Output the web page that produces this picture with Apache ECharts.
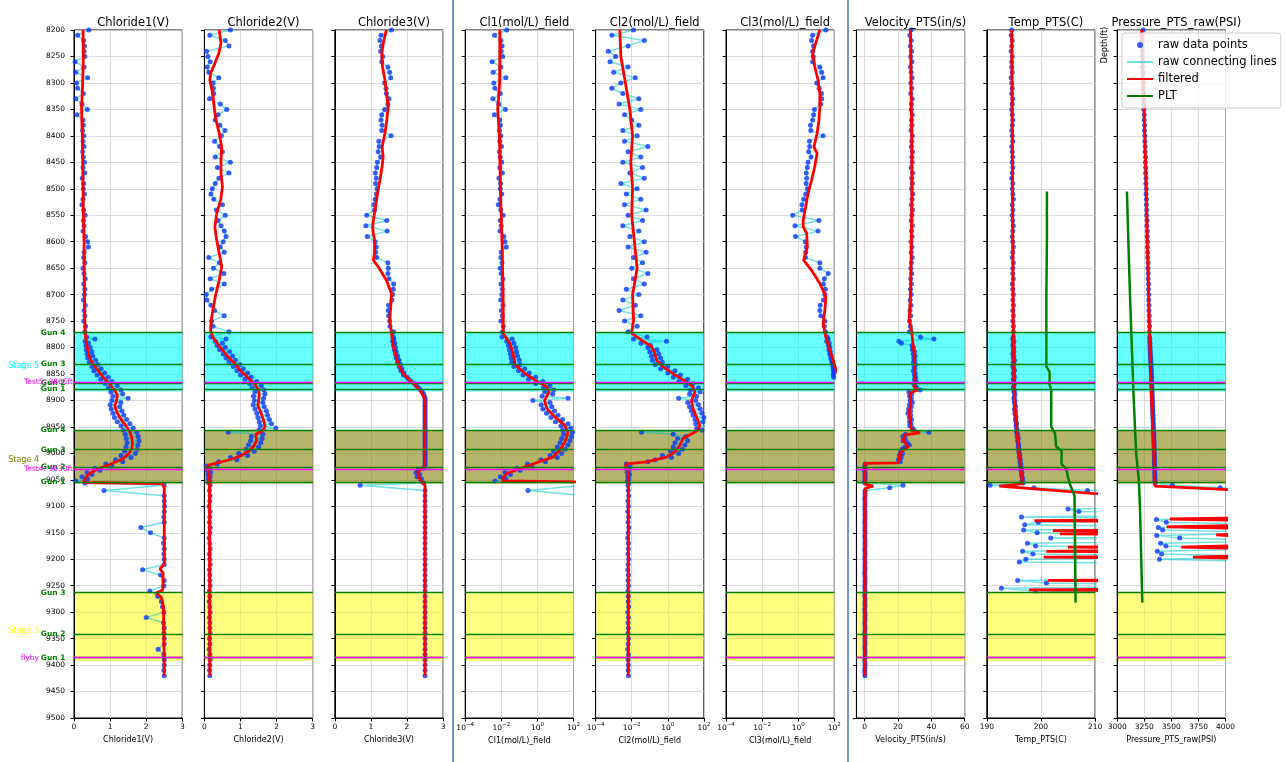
<!DOCTYPE html>
<html>
<head>
<meta charset="utf-8">
<script src="https://cdn.jsdelivr.net/npm/echarts@6/dist/echarts.min.js"></script>
<style>
  html, body { margin: 0; padding: 0; background: #fff; }
  #chart { width: 1285px; height: 762px; }
</style>
</head>
<body>
<div id="chart"></div>
<script>
// ---------------- depth grids (ft) ----------------
const upperDepth = [
  8200,8210,8220,8230,8240,8250,8260,8270,8280,8290,
  8300,8310,8320,8330,8340,8350,8360,8370,8380,8390,
  8400,8410,8420,8430,8440,8450,8460,8470,8480,8490,
  8500,8510,8520,8530,8540,8550,8560,8570,8580,8590,
  8600,8610,8620,8630,8640,8650,8660,8670,8680,8690,
  8700,8710,8720,8730,8740,8750,8760,8770,
  8780,8784,8788,8792,8796,8800,8804,8808,8812,8816,
  8820,8824,8828,8832,8836,8840,8844,8848,8852,8856,
  8860,8864,8868,8872,8876,8880,8884,8888,8892,8896,
  8900,8904,8908,8912,8916,8920,8924,8928,8932,8936,
  8940,8944,8948,8952,8956,8960,8964,8968,8972,8976,
  8980,8984,8988,8992,8996,9000,9004,9008,9012,9016,
  9020,9024,9028,9032,9036,9040,9044,9048,9052,9056,9060
];
const chlLowerDepth = [
  9070,9080,9090,9100,9110,9120,9130,9140,9150,9160,
  9170,9180,9190,9200,9210,9220,9230,9240,9250,9260,
  9270,9280,9290,9300,9310,9320,9330,9340,9350,9360,
  9370,9380,9390,9400,9410,9420
];
const ptsLowerDepth = [
  9065,9070,9075,9080,9085,9090,9095,9100,9105,9110,
  9115,9120,9125,9130,9135,9140,9145,9150,9155,9160,
  9165,9170,9175,9180,9185,9190,9195,9200,9205,9210,
  9215,9220,9225,9230,9235,9240,9245,9250,9255,9260,
  9265,9270,9275,9280,9285,9290,9295,9300,9305,9310,
  9315,9320,9325,9330,9335,9340,9345,9350,9355,9360,
  9365,9370,9375,9380,9385,9390,9395,9400,9405,9410,
  9415,9420
];
const chlDepth = upperDepth.concat(chlLowerDepth);
const ptsDepth = upperDepth.concat(ptsLowerDepth);

// ---------------- raw readings ----------------
const chloride1Raw = [
  0.41,0.10,0.27,0.29,0.28,0.30,0.03,0.28,0.05,0.38,
  0.07,0.10,0.26,0.05,0.22,0.37,0.08,0.25,0.26,0.24,
  0.27,0.25,0.28,0.24,0.26,0.29,0.25,0.30,0.23,0.27,
  0.26,0.29,0.25,0.22,0.27,0.31,0.26,0.28,0.25,0.32,
  0.38,0.40,0.28,0.27,0.30,0.25,0.28,0.31,0.27,0.30,
  0.29,0.26,0.31,0.28,0.30,0.27,0.32,0.30,
  0.35,0.58,0.31,0.40,0.33,0.45,0.34,0.50,0.36,0.52,
  0.38,0.60,0.42,0.66,0.50,0.75,0.55,0.85,0.64,0.95,
  0.74,1.05,0.86,1.20,0.95,1.30,1.02,1.35,1.08,1.50,
  1.05,1.30,1.00,1.27,1.03,1.33,1.08,1.38,1.12,1.46,
  1.20,1.55,1.30,1.64,1.36,1.74,1.42,1.78,1.45,1.80,
  1.47,1.77,1.44,1.75,1.40,1.70,1.30,1.58,1.15,1.35,
  0.88,1.05,0.58,0.72,0.36,0.50,0.22,0.38,0.05,0.30,2.50,
  0.83,2.50,2.50,2.51,2.50,2.49,2.50,1.85,2.12,2.50,
  2.48,2.50,2.49,2.50,2.50,1.90,2.40,2.50,2.49,2.10,
  2.32,2.42,2.45,2.49,2.00,2.48,2.50,2.49,2.50,2.50,
  2.33,2.49,2.50,2.50,2.49,2.50
];
const chloride2Raw = [
  0.72,0.15,0.58,0.68,0.06,0.10,0.16,0.08,0.12,0.40,
  0.24,0.25,0.26,0.14,0.44,0.62,0.38,0.30,0.43,0.57,
  0.47,0.28,0.42,0.50,0.30,0.72,0.36,0.68,0.40,0.30,
  0.22,0.18,0.26,0.50,0.33,0.58,0.38,0.46,0.55,0.60,
  0.52,0.44,0.55,0.12,0.42,0.25,0.54,0.16,0.55,0.20,
  0.05,0.07,0.18,0.28,0.55,0.20,0.24,0.68,
  0.18,0.60,0.30,0.50,0.35,0.58,0.42,0.70,0.52,0.78,
  0.60,0.86,0.68,0.98,0.80,1.08,0.90,1.20,1.00,1.30,
  1.12,1.45,1.25,1.58,1.32,1.65,1.40,1.68,1.36,1.64,
  1.38,1.62,1.35,1.66,1.40,1.72,1.45,1.75,1.48,1.80,
  1.52,1.86,1.55,1.98,1.52,0.66,1.62,1.30,1.60,1.28,
  1.56,1.22,1.50,1.15,1.38,0.95,1.20,0.72,0.90,0.40,
  0.35,0.05,0.14,0.08,0.17,0.10,0.16,0.11,0.15,0.12,0.16,
  0.14,0.16,0.15,0.13,0.16,0.15,0.14,0.16,0.15,0.13,
  0.15,0.16,0.14,0.15,0.16,0.14,0.15,0.15,0.16,0.14,
  0.15,0.13,0.15,0.16,0.14,0.15,0.15,0.16,0.14,0.15,
  0.13,0.15,0.16,0.15,0.14,0.15
];
const chloride3Raw = [
  1.57,1.28,1.25,1.29,1.27,1.33,1.30,1.47,1.52,1.55,
  1.38,1.42,1.43,1.50,1.47,1.38,1.30,1.28,1.31,1.30,
  1.56,1.22,1.23,1.20,1.27,1.18,1.16,1.12,1.15,1.13,
  1.17,1.15,1.12,1.08,1.10,0.88,1.44,0.86,1.45,0.90,
  1.12,1.15,1.13,1.16,1.47,1.48,1.47,1.50,1.63,1.62,
  1.60,1.58,1.49,1.48,1.49,1.52,1.53,1.63,
  1.62,1.64,1.60,1.66,1.63,1.68,1.65,1.70,1.68,1.74,
  1.70,1.78,1.74,1.82,1.78,1.86,1.83,1.92,1.90,2.00,
  2.05,2.12,2.20,2.26,2.32,2.38,2.42,2.46,2.48,2.50,
  2.50,2.50,2.50,2.50,2.50,2.50,2.50,2.50,2.50,2.50,
  2.50,2.50,2.50,2.50,2.50,2.50,2.50,2.50,2.50,2.50,
  2.50,2.50,2.50,2.50,2.50,2.50,2.50,2.50,2.50,2.50,
  2.50,2.50,2.45,2.30,2.25,2.35,2.28,2.40,2.38,2.46,0.70,
  2.50,2.50,2.50,2.50,2.50,2.50,2.50,2.50,2.50,2.50,
  2.50,2.50,2.50,2.50,2.50,2.50,2.50,2.50,2.50,2.50,
  2.50,2.50,2.50,2.50,2.50,2.50,2.50,2.50,2.50,2.50,
  2.50,2.50,2.50,2.50,2.50,2.50
];
const cl1Raw = [
  0.020,0.0042,0.0095,0.011,0.0098,0.012,0.0031,0.0095,0.0035,0.018,
  0.0038,0.0044,0.0088,0.0034,0.0072,0.017,0.0041,0.0082,0.0089,0.0079,
  0.0094,0.0083,0.0102,0.0078,0.0088,0.0105,0.0083,0.0115,0.0074,0.0092,
  0.0088,0.0106,0.0084,0.0068,0.0094,0.0125,0.0088,0.0098,0.0085,0.014,
  0.016,0.019,0.0099,0.0095,0.011,0.0087,0.0099,0.0122,0.0096,0.0112,
  0.0107,0.0092,0.0123,0.0101,0.0114,0.0096,0.0128,0.0116,
  0.011,0.040,0.020,0.050,0.025,0.063,0.028,0.071,0.032,0.079,
  0.035,0.10,0.038,0.11,0.050,0.20,0.089,0.35,0.16,0.80,
  0.32,2.0,0.80,5.0,2.2,7.9,2.5,7.1,1.8,50,
  0.56,5.0,1.6,6.3,2.0,8.9,3.2,14,5.6,25,
  10,50,20,71,25,89,28,79,22,63,
  18,50,12.6,35,7.9,22,5.0,12.6,1.6,2.8,
  0.28,0.50,0.071,0.11,0.016,0.032,0.0089,0.018,0.0045,400,400,
  0.30,400
];
const cl2Raw = [
  0.0126,0.0008,0.050,0.0063,0.0005,0.0013,0.00063,0.0063,0.001,0.016,
  0.0025,0.0008,0.0032,0.025,0.002,0.032,0.004,0.010,0.025,0.0032,
  0.020,0.004,0.079,0.0063,0.032,0.0032,0.040,0.0079,0.050,0.0025,
  0.020,0.005,0.032,0.004,0.063,0.0063,0.040,0.0032,0.025,0.0079,
  0.050,0.0063,0.063,0.0126,0.040,0.010,0.079,0.0126,0.050,0.005,
  0.025,0.0032,0.016,0.002,0.032,0.004,0.020,0.0063,
  0.071,0.0126,0.85,0.032,0.11,0.079,0.25,0.10,0.32,0.126,
  0.40,0.14,0.50,0.20,1.0,0.40,2.5,1.0,5.0,2.0,
  12.6,4.0,25,10,50,18,63,16,40,4.0,
  35,12.6,50,16,63,20,79,25,100,32,
  89,35,126,40,79,0.035,2.0,10,3.5,12.6,
  2.5,8.9,2.0,6.3,1.4,4.0,0.50,1.6,0.20,0.079,
  0.005,0.0079,0.005,0.0071,0.0056,0.0076,0.006,0.0069,0.0058,0.0068,0.0062,
  0.0064,0.0068,0.0062,0.0066,0.0061,0.0067,0.0063,0.0069,0.0064,0.006,
  0.0066,0.0065,0.0062,0.0068,0.0064,0.0061,0.0066,0.0063,0.0067,0.0062,
  0.0065,0.0064,0.0068,0.0061,0.0066,0.0063,0.0065,0.0062,0.0067,0.0064,
  0.006,0.0066,0.0063,0.0065,0.0064,0.0066
];
const cl3Raw = [
  34,6.3,5.5,7.1,6.3,6.8,6.3,15.8,20,24,
  10.5,14.5,19.5,20,17.8,7.9,7.1,6.3,4.8,5.0,
  24,4.2,4.3,3.8,5.2,3.5,3.2,2.8,2.95,2.75,
  3.2,2.6,2.0,1.6,1.66,0.49,14.1,0.66,12.6,0.71,
  2.5,2.8,2.6,2.5,15.8,15.8,46,28,25,32,
  30,25,16.6,15.8,17.8,30,28,32,
  40,46,38,52,48,56,50,60,56,66,
  63,72,76,79,89,85,91,95,87,93,
  160,1000
];
const velocityRaw = [
  27.8,27.1,27.9,27.4,28.1,27.6,28.3,27.5,27.9,28.4,
  27.7,28.2,27.6,28.5,28.0,27.9,28.6,28.1,28.3,27.8,
  28.6,28.2,28.0,28.7,28.3,28.5,27.9,28.8,28.2,28.6,
  28.1,28.9,28.4,28.0,28.7,28.3,27.9,28.6,28.1,28.4,
  27.8,28.3,27.9,28.5,28.0,27.7,28.2,27.6,28.0,27.5,
  27.9,27.3,27.8,27.2,27.6,26.9,27.4,26.8,
  33.5,41.5,20.5,22.0,28.4,29.2,28.6,29.9,29.1,30.2,
  29.4,30.0,29.3,30.4,29.6,30.1,29.2,30.3,29.8,30.6,
  29.9,30.8,29.4,30.2,31.0,33.3,26.5,28.2,26.9,28.0,
  27.2,28.6,26.8,27.9,26.3,27.5,25.9,27.6,26.8,28.1,
  26.9,27.8,27.0,28.6,29.5,38.5,24.5,22.8,24.2,23.0,
  25.5,26.8,24.0,22.3,21.5,22.6,20.8,21.9,20.2,21.4,
  0.3,0.1,0.2,0.0,0.1,0.3,0.1,0.2,0.0,0.1,23.0,
  15.0,0.2,0.1,0.2,0.0,0.1,0.2,0.1,0.0,0.2,
  0.1,0.2,0.1,0.0,0.2,0.1,0.1,0.2,0.0,0.1,
  0.2,0.1,0.2,0.0,0.1,0.2,0.1,0.0,0.2,0.1,
  0.1,0.2,0.0,0.1,0.2,0.1,0.2,0.0,0.1,0.2,
  0.1,0.0,0.2,0.1,0.1,0.2,0.0,0.1,0.2,0.1,
  0.2,0.0,0.1,0.2,0.1,0.0,0.2,0.1,0.1,0.2,
  0.0,0.1,0.2,0.1,0.2,0.0,0.1,0.2,0.1,0.0,
  0.1,0.1
];
const tempRaw = [
  194.6,194.5,194.7,194.6,194.5,194.7,194.6,194.6,194.7,194.5,
  194.6,194.7,194.6,194.8,194.7,194.6,194.7,194.8,194.7,194.6,
  194.7,194.8,194.6,194.7,194.8,194.7,194.8,194.7,194.6,194.8,
  194.7,194.8,194.9,194.7,194.8,194.7,194.8,194.9,194.8,194.7,
  194.8,194.9,194.8,194.7,194.9,194.8,194.8,194.9,194.7,194.8,
  194.9,194.8,194.9,194.8,194.9,194.8,194.9,194.9,
  194.9,194.8,195.0,194.9,194.8,195.0,194.9,195.0,194.8,195.0,
  194.9,195.1,194.9,195.0,194.8,195.0,195.1,194.9,195.0,195.1,
  194.9,195.0,195.1,195.0,194.9,195.1,195.0,195.2,195.1,195.0,
  195.2,195.1,195.2,195.3,195.1,195.3,195.2,195.3,195.4,195.3,
  195.4,195.5,195.4,195.5,195.6,195.5,195.7,195.6,195.8,195.7,
  195.8,195.9,195.8,196.0,195.9,196.0,196.1,196.0,196.2,196.1,
  196.3,196.2,196.4,196.3,196.5,196.4,196.5,196.6,196.5,196.7,190.6,
  198.7,208.6,240,240,240,240,240,240,205.0,207.0,
  240,196.4,240,199.5,197.0,240,196.8,199.3,240,201.8,
  240,197.5,199.0,240,196.6,198.5,240,197.2,196.0,240,
  240,240,240,240,240,195.7,201.0,240,192.7,199.0,
  240
];
const pressureRaw = [
  3240,3226,3230,3228,3232,3231,3235,3233,3238,3236,
  3241,3240,3244,3243,3247,3246,3250,3249,3253,3252,
  3256,3255,3258,3257,3261,3260,3263,3262,3266,3265,
  3269,3267,3271,3270,3273,3272,3276,3274,3278,3277,
  3280,3279,3282,3281,3285,3284,3287,3286,3290,3289,
  3292,3291,3294,3293,3296,3295,3298,3297,
  3299,3301,3300,3303,3302,3304,3303,3306,3305,3308,
  3307,3310,3309,3312,3311,3314,3313,3316,3315,3318,
  3317,3319,3318,3320,3319,3322,3321,3323,3322,3325,
  3324,3326,3325,3328,3327,3329,3328,3331,3330,3332,
  3331,3334,3333,3335,3334,3337,3336,3338,3337,3340,
  3339,3341,3340,3342,3341,3343,3342,3344,3343,3345,
  3344,3346,3345,3347,3346,3348,3347,3349,3348,3350,3509,
  3951,4500,4500,4500,4500,4500,4500,4500,4500,4500,
  4500,4500,3362,3454,4500,3380,3420,4500,3365,3577,
  4500,3400,3450,4500,3370,3410,4500,3390,4500
];

// ---------------- filtered curves: [depth, value] ----------------
const chloride1Filtered = [[8200,0.25],[8250,0.26],[8300,0.24],[8350,0.21],[8400,0.23],[8450,0.24],[8500,0.25],[8550,0.26],[8600,0.28],[8650,0.28],[8700,0.29],[8750,0.30],[8772,0.31],[8790,0.34],[8800,0.37],[8810,0.40],[8820,0.44],[8830,0.52],[8840,0.62],[8850,0.74],[8860,0.86],[8870,1.00],[8880,1.12],[8890,1.20],[8900,1.18],[8910,1.13],[8920,1.18],[8930,1.25],[8940,1.35],[8950,1.46],[8960,1.55],[8970,1.60],[8980,1.62],[8990,1.60],[9000,1.53],[9010,1.36],[9020,1.02],[9030,0.64],[9040,0.39],[9050,0.28],[9055,0.27],[9057,2.45],[9065,2.50],[9210,2.50],[9218,2.38],[9226,2.47],[9258,2.46],[9264,2.28],[9272,2.42],[9290,2.48],[9420,2.50]];
const chloride2Filtered = [[8200,0.41],[8225,0.46],[8244,0.40],[8263,0.29],[8282,0.17],[8295,0.15],[8320,0.23],[8345,0.27],[8370,0.32],[8395,0.41],[8421,0.48],[8446,0.46],[8471,0.46],[8496,0.50],[8521,0.45],[8547,0.34],[8572,0.29],[8597,0.34],[8622,0.41],[8647,0.48],[8673,0.41],[8698,0.32],[8723,0.25],[8748,0.19],[8767,0.17],[8780,0.23],[8799,0.43],[8818,0.66],[8830,0.84],[8840,0.95],[8850,1.10],[8860,1.25],[8870,1.40],[8880,1.50],[8890,1.52],[8900,1.50],[8910,1.48],[8920,1.55],[8930,1.60],[8940,1.65],[8950,1.68],[8958,1.60],[8964,1.42],[8975,1.45],[8985,1.38],[8995,1.25],[9005,1.00],[9012,0.70],[9018,0.35],[9022,0.12],[9026,0.08],[9032,0.10],[9040,0.13],[9060,0.14],[9420,0.15]];
const chloride3Filtered = [[8200,1.43],[8219,1.36],[8244,1.30],[8269,1.32],[8295,1.39],[8320,1.43],[8345,1.48],[8370,1.44],[8395,1.39],[8421,1.31],[8440,1.34],[8458,1.31],[8484,1.25],[8509,1.18],[8534,1.13],[8559,1.07],[8572,1.05],[8585,1.07],[8597,1.10],[8622,1.10],[8635,1.07],[8647,1.20],[8673,1.43],[8698,1.57],[8723,1.55],[8748,1.52],[8774,1.57],[8799,1.62],[8818,1.70],[8830,1.75],[8850,1.90],[8870,2.20],[8880,2.35],[8890,2.45],[8900,2.50],[9025,2.49],[9035,2.30],[9045,2.33],[9055,2.42],[9060,2.50],[9420,2.50]];
const cl1Filtered = [[8200,0.0083],[8300,0.0081],[8350,0.0063],[8400,0.0079],[8500,0.0089],[8600,0.011],[8700,0.0126],[8748,0.0129],[8773,0.0129],[8792,0.030],[8811,0.045],[8832,0.058],[8849,0.204],[8865,1.07],[8874,3.3],[8884,4.4],[8900,2.5],[8915,3.3],[8931,9.3],[8947,33],[8962,49],[8979,33],[8994,17.4],[9007,7.2],[9020,0.56],[9029,0.107],[9038,0.020],[9048,0.0117],[9052,0.0126],[9054,500],[9100,500]];
const cl2Filtered = [[8200,0.0022],[8250,0.0025],[8300,0.0045],[8350,0.0079],[8400,0.0112],[8450,0.0089],[8500,0.0112],[8550,0.010],[8600,0.0141],[8650,0.020],[8700,0.0112],[8748,0.0126],[8773,0.010],[8786,0.035],[8798,0.126],[8811,0.19],[8824,0.24],[8836,0.54],[8849,1.9],[8861,6.8],[8874,24.5],[8884,31.6],[8900,20.4],[8915,24.5],[8931,38.9],[8947,58.9],[8955,50],[8962,24.5],[8972,6.8],[8985,4.6],[8997,2.45],[9007,0.85],[9016,0.068],[9020,0.0052],[9025,0.0043],[9030,0.0063],[9060,0.0065],[9420,0.0065]];
const cl3Filtered = [[8200,15.8],[8219,10.5],[8244,6.3],[8269,8.3],[8295,12.6],[8320,15.8],[8345,15.8],[8370,14.1],[8395,11.2],[8421,7.4],[8433,11.2],[8458,8.3],[8484,5.5],[8509,3.5],[8534,2.6],[8559,1.9],[8572,1.9],[8584,2.95],[8610,3.2],[8635,2.0],[8654,5.5],[8679,15.8],[8704,34],[8729,30],[8755,24],[8780,34],[8805,56],[8824,87],[8837,112],[8860,250],[8900,1000]];
const velocityFiltered = [[8200,27.5],[8300,27.8],[8400,28.2],[8500,28.3],[8600,28.0],[8700,27.5],[8748,26.7],[8767,28.1],[8786,28.7],[8811,29.7],[8836,29.8],[8861,30.1],[8874,29.5],[8880,32.0],[8886,27.1],[8905,27.7],[8924,26.7],[8943,27.4],[8956,28.0],[8961,33.1],[8965,24.1],[8975,23.0],[8987,26.0],[9000,21.1],[9013,20.7],[9018,20.1],[9019,0.2],[9040,0.1],[9058,0.2],[9062,5.1],[9066,0.3],[9100,0.2],[9420,0.1]];
const tempFiltered = [[8200,194.6],[8400,194.7],[8600,194.8],[8748,194.9],[8874,195.0],[8956,195.5],[9019,196.2],[9057,196.6],[9060,194.5],[9062,192.3],[9076,210],[9082,240],[9124,240],[9127,198.8],[9130,240],[9143,240],[9146,202.2],[9149,240],[9150,240],[9152,203.5],[9155,240],[9175,240],[9177,205.0],[9180,240],[9183,240],[9185,201.0],[9188,240],[9194,240],[9196,200.5],[9199,240],[9238,240],[9240,201.3],[9243,240],[9255,240],[9258,197.8],[9261,240],[9420,240]];
const pressureFiltered = [[8200,3225],[8300,3240],[8400,3255],[8500,3268],[8600,3278],[8700,3290],[8800,3302],[8900,3318],[9000,3338],[9055,3348],[9062,3350],[9070,4200],[9122,4200],[9124,3485],[9127,4200],[9136,4200],[9139,3457],[9142,4200],[9151,4200],[9154,3914],[9157,4200],[9174,4200],[9177,3592],[9180,4200],[9193,4200],[9196,3700],[9199,4200]];

// ---------------- production logging (PLT) curves: [depth, value] ----------------
const tempPLT = [[8505,201.1],[8600,201.1],[8700,201.0],[8800,201.0],[8836,201.0],[8846,201.6],[8870,201.6],[8880,201.9],[8950,201.9],[8962,202.6],[8987,202.8],[8995,203.8],[9020,203.8],[9030,204.7],[9045,205.0],[9057,205.3],[9072,205.9],[9080,206.2],[9282,206.4]];
const pressurePLT = [[8505,3090],[8600,3103],[8700,3118],[8800,3135],[8900,3153],[9000,3175],[9051,3200],[9100,3210],[9200,3222],[9282,3232]];

// ---------------- completion intervals ----------------
const stageNames = ['Stage 5', 'Stage 4', 'Stage 3'];
const stageTop = [8772, 8956, 9263];
const stageBottom = [8883, 9057, 9393];
const gunNames = ['Gun 4','Gun 3','Gun 2','Gun 1','Gun 4','Gun 3','Gun 2','Gun 1','Gun 3','Gun 2','Gun 1'];
const gunDepths = [8772, 8832, 8868, 8878, 8956, 8993, 9026, 9054, 9263, 9341, 9386];
const testNames = ['Test5: 8865ft', 'Test4: 9030ft', 'flyby'];
const testDepths = [8865, 9030, 9386];

// ---------------- axis tick labels ----------------
const logTicks = [1e-4, 1e-2, 1, 100];
const velocityTicks = [0, 20, 40, 60];

// ---------------- styling ----------------
const FONT = 'DejaVu Sans';
const STAGE_FILL = ['rgba(0,255,255,0.6)', 'rgba(128,128,0,0.58)', 'rgba(255,255,0,0.5)'];
const STAGE_TEXT = ['#00ffff', '#808000', '#ffff00'];
const GUN_COLOR = '#008000';
const TEST_COLOR = '#ff00ff';
const DOT_COLOR = '#0a38f5';
const LINK_COLOR = 'rgba(0,200,200,0.55)';
const GRID_LEFT0 = 74, GRID_STEP = 130.4, GRID_W = 108.3, GRID_TOP = 30, GRID_H = 688;

const panels = [
  { title: 'Chloride1(V)', kind: 'lin', min: 0, max: 3, interval: 1, depth: chlDepth, raw: chloride1Raw, filtered: chloride1Filtered },
  { title: 'Chloride2(V)', kind: 'lin', min: 0, max: 3, interval: 1, depth: chlDepth, raw: chloride2Raw, filtered: chloride2Filtered },
  { title: 'Chloride3(V)', kind: 'lin', min: 0, max: 3, interval: 1, depth: chlDepth, raw: chloride3Raw, filtered: chloride3Filtered },
  { title: 'Cl1(mol/L)_field', kind: 'log', depth: chlDepth, raw: cl1Raw, filtered: cl1Filtered },
  { title: 'Cl2(mol/L)_field', kind: 'log', depth: chlDepth, raw: cl2Raw, filtered: cl2Filtered },
  { title: 'Cl3(mol/L)_field', kind: 'log', depth: chlDepth, raw: cl3Raw, filtered: cl3Filtered },
  { title: 'Velocity_PTS(in/s)', kind: 'custom', min: -5, max: 60, ticks: velocityTicks, depth: ptsDepth, raw: velocityRaw, filtered: velocityFiltered },
  { title: 'Temp_PTS(C)', kind: 'lin', min: 190, max: 210, interval: 10, depth: ptsDepth, raw: tempRaw, filtered: tempFiltered, plt: tempPLT },
  { title: 'Pressure_PTS_raw(PSI)', kind: 'lin', min: 3000, max: 4000, interval: 250, depth: ptsDepth, raw: pressureRaw, filtered: pressureFiltered, plt: pressurePLT }
];

const toPairs = (vals, depth) => vals.slice(0, depth.length).map((v, i) => [v, depth[i]]);
const flip = arr => arr.map(([d, v]) => [v, d]);
const supMinus = n => String(n).replace('-', '\u2212');
const plainNumber = v => String(v);

const grids = [], xAxes = [], yAxes = [], series = [], titles = [];

panels.forEach((p, i) => {
  const left = GRID_LEFT0 + GRID_STEP * i;
  const first = i === 0;
  grids.push({ left, top: GRID_TOP, width: GRID_W, height: GRID_H, show: true,
    borderColor: '#000', borderWidth: 1, backgroundColor: 'transparent', z: 1 });
  titles.push({ text: p.title, left: left + GRID_W / 2, top: 12, textAlign: 'center',
    textStyle: { fontSize: 11.5, fontWeight: 'normal', color: '#000', fontFamily: FONT } });

  const xa = {
    gridIndex: i, position: 'bottom', name: p.title, nameLocation: 'middle', nameGap: 15,
    nameTextStyle: { fontSize: 8, color: '#000', fontFamily: FONT },
    axisLine: { show: true, onZero: false, lineStyle: { color: '#000', width: 1 } },
    axisTick: { show: true, length: 3.5, lineStyle: { color: '#000' } },
    axisLabel: { fontSize: 7.5, color: '#000', margin: 5, fontFamily: FONT, formatter: plainNumber },
    splitLine: { show: true, lineStyle: { color: '#d0d0d0', width: 0.8 } },
    z: 1
  };
  if (p.kind === 'log') {
    Object.assign(xa, { type: 'log', logBase: 10, min: 1e-4, max: 100 });
    xa.axisTick.customValues = logTicks;
    xa.axisLabel.customValues = logTicks;
    xa.axisLabel.margin = 4;
    xa.axisLabel.formatter = v => '{b|10}{s|' + supMinus(Math.round(Math.log10(v))) + '}';
    xa.axisLabel.rich = {
      b: { fontSize: 7.5, lineHeight: 12, color: '#000', fontFamily: FONT },
      s: { fontSize: 5.5, lineHeight: 6, verticalAlign: 'top', color: '#000', fontFamily: FONT }
    };
  } else if (p.kind === 'custom') {
    Object.assign(xa, { type: 'value', min: p.min, max: p.max });
    xa.axisTick.customValues = p.ticks;
    xa.axisLabel.customValues = p.ticks;
  } else {
    Object.assign(xa, { type: 'value', min: p.min, max: p.max, interval: p.interval });
  }
  xAxes.push(xa);

  yAxes.push({
    gridIndex: i, type: 'value', inverse: true, min: 8200, max: 9500, interval: 50,
    axisLine: { show: true, onZero: false, lineStyle: { color: '#000', width: 1 } },
    axisTick: { show: true, length: 3.5, lineStyle: { color: '#000' } },
    axisLabel: { show: first, fontSize: 7.5, color: '#000', margin: 9, fontFamily: FONT, formatter: plainNumber },
    splitLine: { show: true, lineStyle: { color: '#d0d0d0', width: 0.8 } },
    z: 1
  });

  // shaded stage intervals
  series.push({
    type: 'line', xAxisIndex: i, yAxisIndex: i, data: [], silent: true, z: 0, clip: false,
    markArea: {
      silent: true,
      data: stageNames.map((name, k) => [
        { name, yAxis: stageTop[k], itemStyle: { color: STAGE_FILL[k] },
          label: { show: first, position: 'left', distance: 35, offset: [0, 3.5], color: STAGE_TEXT[k],
            fontSize: 8, fontFamily: FONT } },
        { yAxis: stageBottom[k] }
      ])
    }
  });

  const rawPairs = toPairs(p.raw, p.depth);
  series.push({
    name: 'raw connecting lines', type: 'line', xAxisIndex: i, yAxisIndex: i, data: rawPairs,
    symbol: 'none', silent: true, z: 2, lineStyle: { color: LINK_COLOR, width: 1.5 }
  });
  series.push({
    name: 'raw data points', type: 'scatter', xAxisIndex: i, yAxisIndex: i, data: rawPairs,
    symbolSize: 5, silent: true, z: 3, itemStyle: { color: DOT_COLOR }
  });
  series.push({
    name: 'filtered', type: 'line', xAxisIndex: i, yAxisIndex: i, data: flip(p.filtered),
    symbol: 'none', silent: true, z: 4, lineStyle: { color: '#ff0000', width: 2.8 }
  });
  if (p.plt) {
    series.push({
      name: 'PLT', type: 'line', xAxisIndex: i, yAxisIndex: i, data: flip(p.plt),
      symbol: 'none', silent: true, z: 4, lineStyle: { color: '#008000', width: 2.5 }
    });
  }

  // gun and test depth markers
  const gunLines = gunNames.map((name, k) => ({
    name, yAxis: gunDepths[k], lineStyle: { color: GUN_COLOR, width: 1.3, type: 'solid' },
    label: { show: first, position: 'start', formatter: name, distance: 8.5, color: GUN_COLOR,
      fontSize: 7.5, fontWeight: 'bold', fontFamily: FONT }
  }));
  const testLines = testNames.map((name, k) => ({
    name, yAxis: testDepths[k], lineStyle: { color: TEST_COLOR, width: 1.3, type: 'solid' },
    label: { show: first, position: 'start', formatter: name, distance: name === 'flyby' ? 35 : 1,
      color: TEST_COLOR, fontSize: 7.5, fontFamily: FONT }
  }));
  series.push({
    type: 'line', xAxisIndex: i, yAxisIndex: i, data: [], silent: true, z: 5, clip: false,
    markLine: { silent: true, symbol: ['none', 'none'], data: gunLines.concat(testLines) }
  });
});

const chart = echarts.init(document.getElementById('chart'), null, { renderer: 'canvas' });
chart.setOption({
  animation: false,
  backgroundColor: '#ffffff',
  textStyle: { fontFamily: FONT },
  title: titles,
  grid: grids,
  xAxis: xAxes,
  yAxis: yAxes,
  series,
  legend: {
    orient: 'vertical', left: 1122, top: 33, z: 10, selectedMode: false,
    data: [
      { name: 'raw data points', icon: 'circle' },
      { name: 'raw connecting lines', itemStyle: { opacity: 0 } },
      { name: 'filtered', itemStyle: { opacity: 0 } },
      { name: 'PLT', itemStyle: { opacity: 0 } }
    ],
    itemWidth: 26, itemHeight: 6, itemGap: 3,
    textStyle: { fontSize: 11.5, color: '#000', fontFamily: FONT, lineHeight: 14 },
    backgroundColor: 'rgba(255,255,255,0.8)', borderColor: '#cccccc', borderWidth: 1,
    borderRadius: 3, padding: [5, 4, 5, 4]
  },
  graphic: [
    { type: 'line', shape: { x1: 453, y1: 0, x2: 453, y2: 762 }, style: { stroke: '#4472c4', lineWidth: 1.5 } },
    { type: 'line', shape: { x1: 848, y1: 0, x2: 848, y2: 762 }, style: { stroke: '#4472c4', lineWidth: 1.5 } },
    { type: 'text', x: 1105, y: 45, rotation: Math.PI / 2,
      style: { text: 'Depth(ft)', fontSize: 8, fontFamily: FONT, fill: '#000', align: 'center', verticalAlign: 'middle' } }
  ]
});
</script>
</body>
</html>
